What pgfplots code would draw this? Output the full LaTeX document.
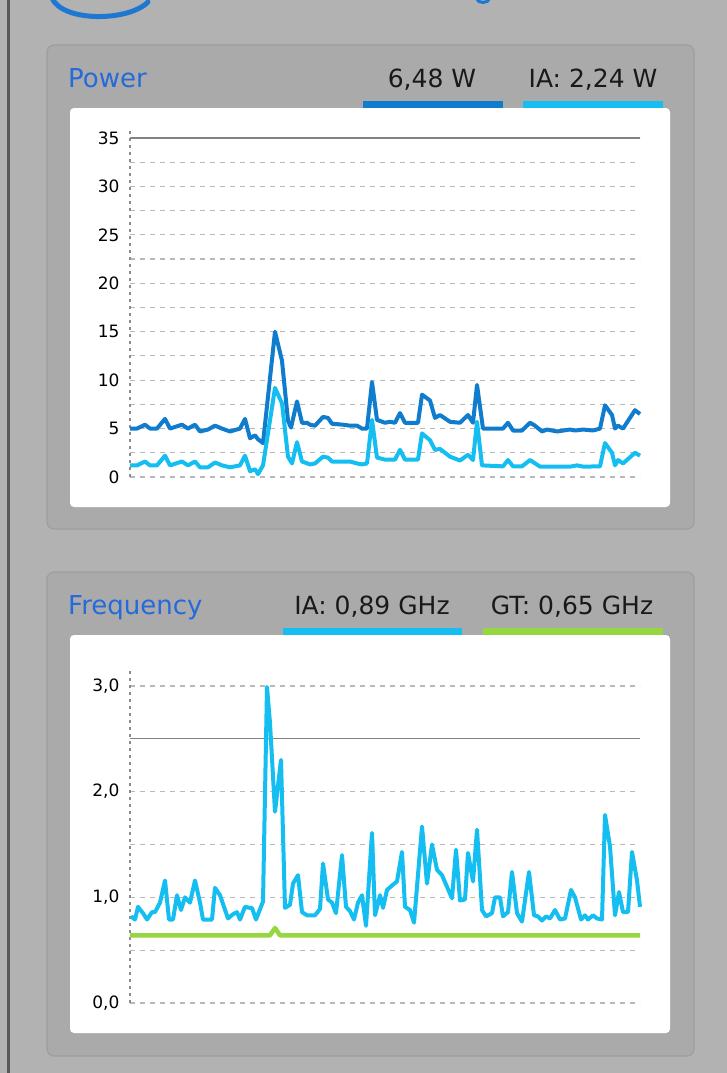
\documentclass[border=0pt]{standalone}
\usepackage{pgfplots}
\pgfplotsset{compat=1.18}
\usepackage{fontspec}
\setmainfont{DejaVu Sans}
\definecolor{bg}{RGB}{178,178,178}
\definecolor{panel}{RGB}{170,170,170}
\definecolor{panelborder}{RGB}{158,158,158}
\definecolor{edge}{RGB}{88,88,88}
\definecolor{pkgblue}{RGB}{30,120,210}
\definecolor{titleblue}{RGB}{36,106,218}
\definecolor{totblue}{RGB}{16,124,206}
\definecolor{iablue}{RGB}{20,190,240}
\definecolor{gtgreen}{RGB}{150,214,64}
\definecolor{gridgray}{RGB}{185,185,185}
\definecolor{axisgray}{RGB}{140,140,140}
\definecolor{refgray}{RGB}{130,130,130}
\newcommand{\hdr}{\fontsize{25}{30}\selectfont}
\newcommand{\ttl}{\fontsize{26}{31}\selectfont}
\newcommand{\tck}{\fontsize{17}{20}\selectfont}

\pgfplotstableread{
x y
130 5.0
137 5.0
145 5.4
150 5.0
157 5.0
165 6.0
170 5.0
176 5.2
182 5.4
188 5.0
195 5.4
200 4.7
208 4.9
215 5.3
222 5.0
230 4.7
240 5.0
245 6.0
250 4.0
255 4.3
258 3.9
263 3.5
275 15.0
282 12.0
288 5.8
291 5.1
297 7.8
302 5.6
307 5.6
310 5.4
315 5.3
323 6.2
328 6.1
332 5.5
343 5.4
350 5.3
357 5.3
362 5.0
367 5.0
372 9.8
377 5.9
385 5.6
390 5.7
395 5.6
400 6.6
405 5.6
415 5.6
418 5.6
422 8.5
430 7.9
435 6.1
440 6.4
450 5.7
460 5.6
468 6.4
473 5.6
477 9.5
483 5.0
503 5.0
508 5.6
513 4.8
522 4.8
530 5.6
535 5.3
542 4.7
547 4.9
557 4.7
570 4.9
575 4.8
583 4.9
593 4.8
600 5.0
605 7.4
612 6.4
615 5.0
618 5.3
623 5.0
635 6.9
640 6.5
}\powertot

\pgfplotstableread{
x y
130 1.2
137 1.2
145 1.6
150 1.2
157 1.2
165 2.2
170 1.2
176 1.4
182 1.6
188 1.2
195 1.6
200 1.0
208 1.0
215 1.5
222 1.2
230 1.0
240 1.2
245 2.2
250 0.6
255 0.8
258 0.3
263 1.2
275 9.2
282 7.6
288 2.1
292 1.4
297 3.6
302 1.6
310 1.3
315 1.4
323 2.1
328 2.0
332 1.6
350 1.6
357 1.4
362 1.3
367 1.4
372 5.9
377 2.0
385 1.8
395 1.8
400 2.8
405 1.8
418 1.8
422 4.5
430 3.8
435 2.8
440 2.9
450 2.1
460 1.7
468 2.3
473 1.75
477 5.7
482 1.2
503 1.1
508 1.75
513 1.1
522 1.1
530 1.75
540 1.07
570 1.07
577 1.2
583 1.07
600 1.1
605 3.5
612 2.5
615 1.2
618 1.75
623 1.4
635 2.5
640 2.2
}\poweria

\pgfplotstableread{
x y
131 0.82
135 0.79
138 0.91
143 0.85
147 0.79
152 0.86
155 0.86
160 0.95
165 1.16
169 0.79
173 0.79
177 1.02
181 0.88
185 1.0
190 0.95
195 1.16
200 0.95
203 0.79
212 0.79
215 1.09
220 1.02
228 0.80
233 0.84
237 0.86
240 0.79
245 0.91
250 0.90
252 0.90
256 0.79
263 0.96
267 2.99
270 2.65
275 1.81
281 2.3
285 0.9
290 0.93
293 1.13
298 1.21
302 0.86
307 0.83
315 0.83
320 0.89
323 1.32
328 0.98
332 0.95
336 0.85
342 1.4
346 0.91
350 0.87
354 0.79
358 0.95
362 1.02
366 0.73
372 1.61
375 0.83
380 1.02
383 0.9
387 1.07
393 1.12
397 1.15
402 1.43
405 0.91
410 0.88
414 0.76
422 1.67
427 1.13
432 1.5
437 1.26
442 1.21
452 0.99
456 1.45
460 0.97
465 0.98
468 1.42
473 1.15
477 1.64
482 0.88
486 0.82
492 0.85
495 1.0
500 1.0
503 0.82
508 0.86
512 1.24
517 0.85
522 0.77
529 1.24
534 0.83
538 0.82
542 0.78
546 0.82
550 0.80
555 0.88
560 0.79
565 0.80
571 1.07
575 1.0
581 0.79
585 0.83
588 0.79
593 0.83
597 0.80
602 0.79
605 1.78
610 1.48
615 0.83
619 1.05
623 0.86
628 0.86
632 1.43
637 1.16
640 0.91
}\freqia

\pgfplotstableread{
x y
130 0.64
270 0.64
275 0.71
280 0.64
640 0.64
}\freqgt

\pgfplotsset{
  panelaxis/.style={
    scale only axis, width=510pt, enlargelimits=false, clip=false,
    xmin=130, xmax=640, xtick=\empty,
    axis line style={draw=none}, tick style={draw=none},
    major tick length=0pt, minor tick length=0pt,
    ymajorgrids, yminorgrids,
    major grid style={dash pattern=on 5pt off 5pt, color=gridgray, line width=1.1pt},
    minor grid style={dash pattern=on 5pt off 5pt, color=gridgray, line width=1.1pt},
    yticklabel style={font=\tck, text=black, xshift=-7pt},
  },
}

\begin{document}
\begin{tikzpicture}
\begin{scope}[x=1pt,y=-1pt]
\useasboundingbox (0,0) rectangle (727,1073);
\fill[bg] (0,0) rectangle (727,1073);
\fill[edge] (7,0) rectangle (10,1073);
% partial logo at top
\draw[pkgblue, line width=5pt, line cap=round] (52,-2) .. controls (62,22) and (128,22) .. (148,2);
\draw[pkgblue, line width=3pt] (476,-2) .. controls (478,4) and (488,4) .. (490,-2);
% power panel
\filldraw[fill=panel, draw=panelborder, rounded corners=7pt, line width=1.2pt] (47,45) rectangle (694,529);
\fill[white, rounded corners=4pt] (70,108) rectangle (670,507);
\node[anchor=base west, text=titleblue, inner sep=0pt] at (68,87) {\ttl Power};
\node[anchor=base, text=black!90, inner sep=0pt] at (432,87) {\hdr 6,48 W};
\node[anchor=base, text=black!90, inner sep=0pt] at (593,87) {\hdr IA: 2,24 W};
\fill[totblue] (363,101) rectangle (503,108);
\fill[iablue] (523,101) rectangle (663,108);
% frequency panel
\filldraw[fill=panel, draw=panelborder, rounded corners=7pt, line width=1.2pt] (47,572) rectangle (694,1056);
\fill[white, rounded corners=4pt] (70,635) rectangle (670,1033);
\node[anchor=base west, text=titleblue, inner sep=0pt] at (68,614) {\ttl Frequency};
\node[anchor=base, text=black!90, inner sep=0pt] at (372,614) {\hdr IA: 0,89 GHz};
\node[anchor=base, text=black!90, inner sep=0pt] at (572,614) {\hdr GT: 0,65 GHz};
\fill[iablue] (283,628) rectangle (462,635);
\fill[gtgreen] (483,628) rectangle (663,635);
\end{scope}

\begin{axis}[panelaxis, at={(130pt,-477pt)}, anchor=south west,
  height=346.8pt, ymin=0, ymax=35.8,
  ytick={0,5,...,35}, yticklabels={0,5,10,15,20,25,30,35},
  minor ytick={2.5,7.5,...,32.5}]
\draw[axisgray, dash pattern=on 3pt off 4pt, line width=1.2pt] (axis cs:130,0) -- (axis cs:130,35.8);
\draw[refgray, line width=1.3pt] (axis cs:130,35) -- (axis cs:640,35);
\addplot[totblue, line width=4pt, line join=round] table {\powertot};
\addplot[iablue, line width=4pt, line join=round] table {\poweria};
\end{axis}

\begin{axis}[panelaxis, at={(130pt,-1003pt)}, anchor=south west,
  height=335pt, ymin=0, ymax=3.17,
  ytick={0,1,2,3}, yticklabels={{0,0},{1,0},{2,0},{3,0}},
  minor ytick={0.5,1.5,2.5}]
\draw[axisgray, dash pattern=on 3pt off 4pt, line width=1.2pt] (axis cs:130,0) -- (axis cs:130,3.17);
\draw[refgray, line width=1.3pt] (axis cs:130,2.5) -- (axis cs:640,2.5);
\addplot[gtgreen, line width=4.5pt, line join=round] table {\freqgt};
\addplot[iablue, line width=4pt, line join=round] table {\freqia};
\end{axis}
\end{tikzpicture}
\end{document}
